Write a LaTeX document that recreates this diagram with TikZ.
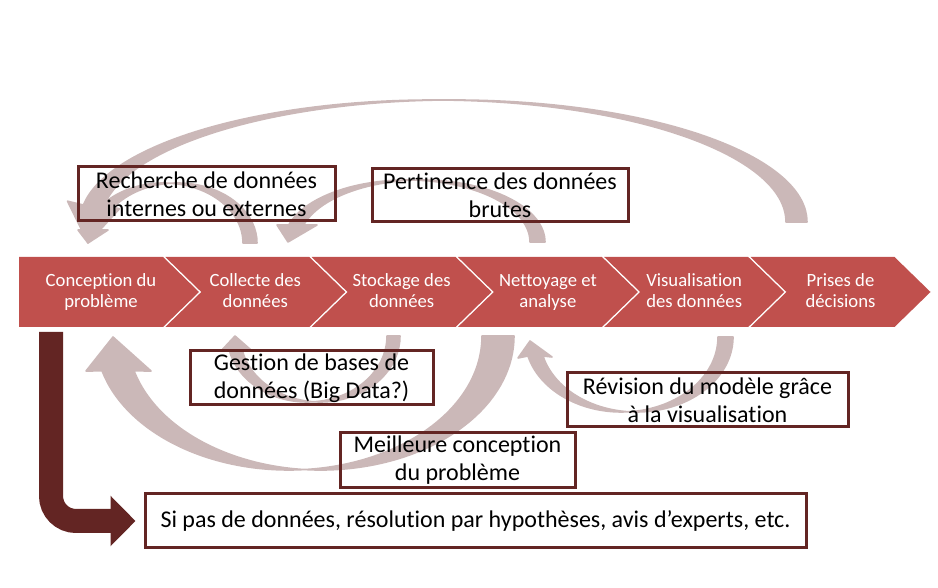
\documentclass[tikz,border=0pt]{standalone}
\usepackage{fontspec}
\setmainfont{Carlito}[Ligatures=NoCommon]
\usetikzlibrary{arrows.meta,calc}
\definecolor{stepred}{HTML}{C0504D}
\definecolor{boxred}{HTML}{632523}
\definecolor{loopgray}{HTML}{CBB8B8}
\tikzset{
    chev shape/.style={fill=stepred},
    chev text/.style={text=white, align=center, font=\fontsize{14}{15.75}\selectfont},
    note box/.style={draw=boxred, line width=2.25pt, align=center, inner sep=0pt, font=\fontsize{18}{21}\selectfont},
    loop arrow/.style={fill=loopgray, draw=loopgray, line width=1.2pt, line join=round},
    bend arrow/.style={draw=boxred, line width=18pt, rounded corners=18.75pt, shorten >=6pt, -{Triangle[length=18.75pt,width=36.75pt]}}
}

\begin{document}
\begin{tikzpicture}[x=0.75pt,y=0.75pt]
	\useasboundingbox (0,0) rectangle (938,588);
	% process chevrons
	\foreach \L/\n in {19/0, 165.3/36, 311.6/36, 457.9/36, 604.2/36, 750.5/36}
		\fill[chev shape] (\L,331) -- ++(144,0) -- ++(36,-35) -- ++(-36,-35) -- ++(-144,0) -- ++(\n,35) -- cycle;
	\node[chev text] (c1) at (101,295.5)   {\strut Conception du\\problème\strut};
	\node[chev text] (c2) at (255.3,295.5) {\strut Collecte des\\données\strut};
	\node[chev text] (c3) at (401.6,295.5) {\strut Stockage des\\données\strut};
	\node[chev text] (c4) at (547.9,295.5) {\strut Nettoyage et\\analyse\strut};
	\node[chev text] (c5) at (694.2,295.5) {\strut Visualisation\\des données\strut};
	\node[chev text] (c6) at (840.5,295.5) {\strut Prises de\\décisions\strut};

	% loops over the top
	\fill[loop arrow] ($(c6)+(-54.5,70.5)$) arc[start angle=0, end angle=172, x radius=353, y radius=122]
		-- ++(-15.93,3.82) -- ++(20.5,-41.8) -- ++(31.5,34.2) -- ++(-15.07,3.78)
		arc[start angle=172, end angle=0, x radius=353, y radius=122] -- cycle;
	\fill[loop arrow] ($(c2)+(-12.3,49.5)$) arc[start angle=0, end angle=167.5, x radius=79.5, y radius=60]
		-- ++(-7.88,0) -- ++(10,-13) -- ++(20,13) -- ++(-8.12,0)
		arc[start angle=167.5, end angle=0, x radius=79.5, y radius=60] -- cycle;
	\fill[loop arrow] ($(c4)+(-17.9,50.5)$) arc[start angle=0, end angle=164, x radius=123, y radius=62]
		-- ++(-11.76,-0.09) -- ++(11,-17) -- ++(29,17) -- ++(-13.24,0.09)
		arc[start angle=164, end angle=0, x radius=123, y radius=62] -- cycle;

	% loops underneath
	\fill[loop arrow] ($(c3)+(-14.6,-43.5)$) arc[start angle=0, end angle=-168.6, x radius=79.8, y radius=66]
		-- ++(-7.97,-1.95) -- ++(14,15) -- ++(16,-14) -- ++(-9.03,0.95)
		arc[start angle=-168.6, end angle=0, x radius=79.8, y radius=66] -- cycle;
	\fill[loop arrow] ($(c4)+(-65.9,-43.5)$) arc[start angle=0, end angle=-164.9, x radius=193.3, y radius=134]
		-- ++(-16.07,-0.09) -- ++(27,34) -- ++(38,-34) -- ++(-16.93,0.09)
		arc[start angle=-164.9, end angle=0, x radius=193.3, y radius=134] -- cycle;
	\fill[loop arrow] ($(c5)+(23.8,-44.5)$) arc[start angle=0, end angle=-165.3, x radius=96.6, y radius=75]
		-- ++(-9.96,-1.97) -- ++(12,17) -- ++(22,-16) -- ++(-9.04,0.97)
		arc[start angle=-165.3, end angle=0, x radius=96.6, y radius=75] -- cycle;

	% comment boxes
	\node[note box, minimum width=192.75pt, minimum height=40.5pt]  (rech)  at (206.5,394) {Recherche de données\\internes ou externes};
	\node[note box, minimum width=192pt, minimum height=39.75pt]    (pert)  at (500,392.5) {Pertinence des données\\brutes};
	\node[note box, minimum width=182.25pt, minimum height=40.5pt]  (gest)  at (311.5,210) {Gestion de bases de\\données (Big Data?)};
	\node[note box, minimum width=176.25pt, minimum height=41.25pt] (meil)  at (457.5,127.5) {Meilleure conception\\du problème};
	\node[note box, minimum width=210.75pt, minimum height=40.5pt]  (revi)  at (707.5,188) {Révision du modèle grâce\\à la visualisation};
	\node[note box, minimum width=495.75pt, minimum height=40.5pt]  (sipas) at (475.5,67) {Si pas de données, résolution par hypothèses, avis d’experts, etc.};

	\draw[bend arrow] ($(c1)+(-50,-39.5)$) |- (sipas.west);
\end{tikzpicture}
\end{document}
